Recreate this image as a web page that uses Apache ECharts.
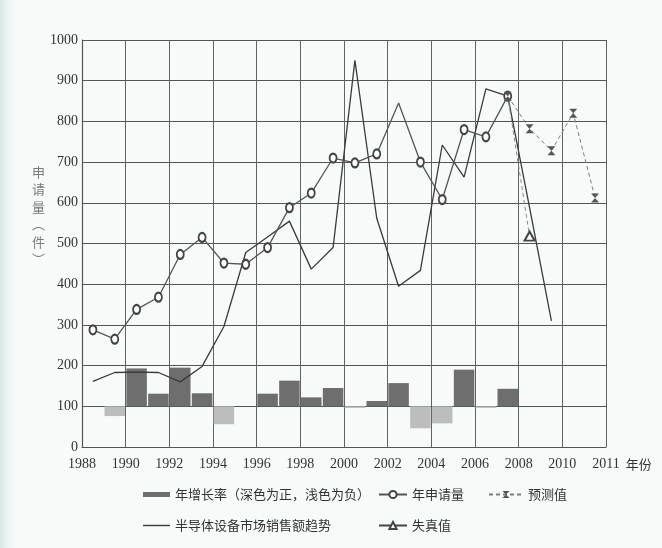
<!DOCTYPE html>
<html><head><meta charset="utf-8">
<script src="https://cdn.jsdelivr.net/npm/echarts@6/dist/echarts.min.js"></script>
<style>html,body{margin:0;padding:0;background:#f8fafa}#c{width:662px;height:548px}</style>
</head><body><div id="c"></div>
<script>
// ---- data ----
const years = ['1988','1989','1990','1991','1992','1993','1994','1995','1996','1997','1998','1999',
               '2000','2001','2002','2003','2004','2005','2006','2007','2008','2009','2010','2011'];
const xTickLabels = ['1988','1990','1992','1994','1996','1998','2000','2002','2004','2006','2008','2010','2011'];
const yTickMin = 0, yTickMax = 1000, yTickStep = 100;
const growthBaseline = 100;
// growth-rate bar ends (bars hang from the 100 line: above = dark/positive, below = light/negative)
const growth = [null,76,193,131,195,132,56,null,131,163,122,145,96,113,157,46,58,190,96,143,null,null,null,null];
const applications = [288,265,338,368,473,515,452,449,490,588,624,710,698,720,845,700,608,780,762,862,null,null,null,null];
const semiTrend = [161,183,184,183,160,198,296,478,516,555,437,490,950,562,395,434,742,663,880,862,588,310,null,null];
const forecast = [null,null,null,null,null,null,null,null,null,null,null,null,null,null,null,null,null,null,null,862,782,728,820,612];
const distorted = [null,null,null,null,null,null,null,null,null,null,null,null,null,null,null,null,null,null,null,862,518,null,null,null];
const names = {
  growth: '年增长率（深色为正，浅色为负）',
  appl: '年申请量',
  forecast: '预测值',
  trend: '半导体设备市场销售额趋势',
  distorted: '失真值'
};

const chart = echarts.init(document.getElementById('c'), null, {renderer: 'canvas'});
const cjk = 'Noto Sans CJK SC';
const serif = 'Liberation Serif';
const firstIdx = arr => arr.findIndex(v => v != null);

const baseData = growth.map(v => v == null ? null : Math.min(v, growthBaseline));
const posData = growth.map(v => v == null ? null : (v > growthBaseline ? v - growthBaseline : 0));
const negData = growth.map(v => v == null ? null : (v < growthBaseline ? growthBaseline - v : 0));
const applData = applications.map((v, i) => years[i] === '2002' ? {value: v, symbol: 'none'} : v);
const distData = distorted.map((v, i) => i === firstIdx(distorted) ? {value: v, symbol: 'none'} : v);
const hourglass = 'path://M0,0L10,0L0,10L10,10Z';
const legendText = {fontFamily: cjk, fontSize: 13, color: '#333'};
const legendBase = {padding: 0, selectedMode: false, textStyle: legendText, itemGap: 0};

chart.setOption({
  backgroundColor: '#f8fafa',
  animation: false,
  grid: {left: 82, right: 56, top: 40, bottom: 101, containLabel: false},
  graphic: [
    {type: 'rect', left: 0, top: 0, z: -10, shape: {width: 20, height: 548},
     style: {fill: new echarts.graphic.LinearGradient(0, 0, 1, 0, [
       {offset: 0, color: '#d9e6e6'}, {offset: 1, color: 'rgba(248,250,250,0)'}])}},
    {type: 'text', left: 32, top: 163,
     style: {text: '申\n请\n量\n︵\n件\n︶', font: '13px "Noto Sans CJK SC"', fill: '#7a7a7a', lineHeight: 17.5}}
  ],
  xAxis: [
    {type: 'category', data: years, boundaryGap: true, show: false},
    {type: 'value', min: 1988, max: 2012, interval: 2, position: 'bottom',
     axisLine: {show: true, onZero: false, lineStyle: {color: '#555', width: 1.2}},
     axisTick: {show: false},
     splitLine: {show: true, lineStyle: {color: '#626262', width: 1}},
     axisLabel: {formatter: v => xTickLabels[Math.round((v - 1988) / 2)] || '',
                 fontFamily: serif, fontSize: 14, color: '#333', margin: 10,
                 showMinLabel: true, showMaxLabel: true},
     name: '年份', nameLocation: 'end', nameGap: 18,
     nameTextStyle: {fontFamily: cjk, fontSize: 13, color: '#333', verticalAlign: 'top', padding: [11, 0, 0, 0]}}
  ],
  yAxis: {type: 'value', min: yTickMin, max: yTickMax, interval: yTickStep,
    axisLine: {show: true, lineStyle: {color: '#555', width: 1.2}},
    axisTick: {show: false},
    splitLine: {lineStyle: {color: '#555', width: 1.1}},
    axisLabel: {formatter: v => String(v), fontFamily: serif, fontSize: 14, color: '#333', margin: 4}},
  legend: [
    Object.assign({data: [{name: names.growth, icon: 'rect'}], left: 143, top: 488, itemWidth: 27, itemHeight: 5}, legendBase),
    Object.assign({data: [{name: names.trend, icon: 'rect'}], left: 143, top: 519, itemWidth: 27, itemHeight: 1.4}, legendBase),
    Object.assign({data: [names.appl], left: 378, top: 488, itemWidth: 28, itemHeight: 9}, legendBase),
    Object.assign({data: [names.distorted], left: 378, top: 519, itemWidth: 28, itemHeight: 9, lineStyle: {type: 'solid', color: '#444'}}, legendBase),
    Object.assign({data: [names.forecast], left: 488, top: 488, itemWidth: 34, itemHeight: 9}, legendBase)
  ],
  series: [
    {name: 'base', type: 'bar', stack: 'g', data: baseData, barWidth: '94%', silent: true,
     itemStyle: {color: 'rgba(0,0,0,0)'}, xAxisIndex: 0},
    {name: names.growth, type: 'bar', stack: 'g', data: posData, barWidth: '94%',
     itemStyle: {color: '#6e6e6e'}, xAxisIndex: 0},
    {name: 'neg', type: 'bar', stack: 'g', data: negData, barWidth: '94%',
     itemStyle: {color: '#bdbdbd'}, xAxisIndex: 0},
    {name: names.trend, type: 'line', data: semiTrend, symbol: 'none', xAxisIndex: 0,
     lineStyle: {color: '#3a3a3a', width: 1.3}, itemStyle: {color: '#3a3a3a'}},
    {name: names.appl, type: 'line', data: applData, symbol: 'emptyCircle', symbolSize: [7, 9], xAxisIndex: 0,
     lineStyle: {color: '#555', width: 1.3}, itemStyle: {color: '#444', borderWidth: 1.2}},
    {name: names.distorted, type: 'line', data: distData, symbol: 'emptyTriangle', symbolSize: [10, 9], xAxisIndex: 0,
     lineStyle: {color: '#888', width: 1, type: [4, 3]}, itemStyle: {color: '#444', borderWidth: 1.2}},
    {name: names.forecast, type: 'line', data: forecast, symbol: hourglass, symbolSize: [8, 9], xAxisIndex: 0,
     lineStyle: {color: '#7c7c7c', width: 1, type: [4, 3]}, itemStyle: {color: '#555'}}
  ]
});
</script></body></html>
